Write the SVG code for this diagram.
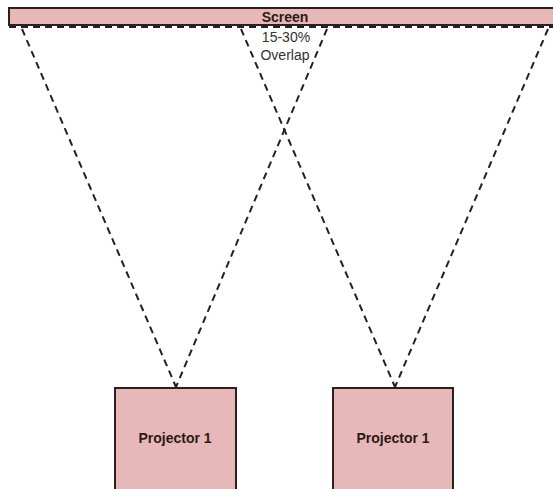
<svg xmlns="http://www.w3.org/2000/svg" width="553" height="489" viewBox="0 0 553 489">
  <style>
    .box { fill: #e6b8b7; stroke: #2e1e1e; stroke-width: 2; }
    .beam { fill: none; stroke: #222; stroke-width: 2; stroke-dasharray: 7 5; }
    .title { font-family: "Liberation Sans", Arial, sans-serif; font-weight: bold; font-size: 14px; fill: #2e1818; text-anchor: middle; }
    .note { font-family: "Liberation Sans", Arial, sans-serif; font-size: 14px; fill: #333; text-anchor: middle; }
  </style>
  <rect width="553" height="489" fill="#fff"/>

  <!-- projection beams -->
  <g id="connectors">
    <line class="beam" x1="9" y1="27" x2="553" y2="27"/>
    <line class="beam" x1="22" y1="29" x2="176" y2="387"/>
    <line class="beam" x1="327" y1="29" x2="176" y2="387"/>
    <line class="beam" x1="241" y1="29" x2="395" y2="387"/>
    <line class="beam" x1="548" y1="29" x2="395" y2="387"/>
  </g>

  <g id="screen">
    <rect class="box" x="9" y="8" width="550" height="17"/>
    <text class="title" x="285" y="22">Screen</text>
  </g>

  <g id="overlap-label">
    <text class="note" x="286" y="42">15-30%</text>
    <text class="note" x="285" y="60">Overlap</text>
  </g>

  <g id="projector-left">
    <rect class="box" x="115" y="388" width="121" height="110"/>
    <text class="title" x="175" y="443">Projector 1</text>
  </g>

  <g id="projector-right">
    <rect class="box" x="333" y="388" width="120" height="110"/>
    <text class="title" x="393" y="443">Projector 1</text>
  </g>
</svg>
